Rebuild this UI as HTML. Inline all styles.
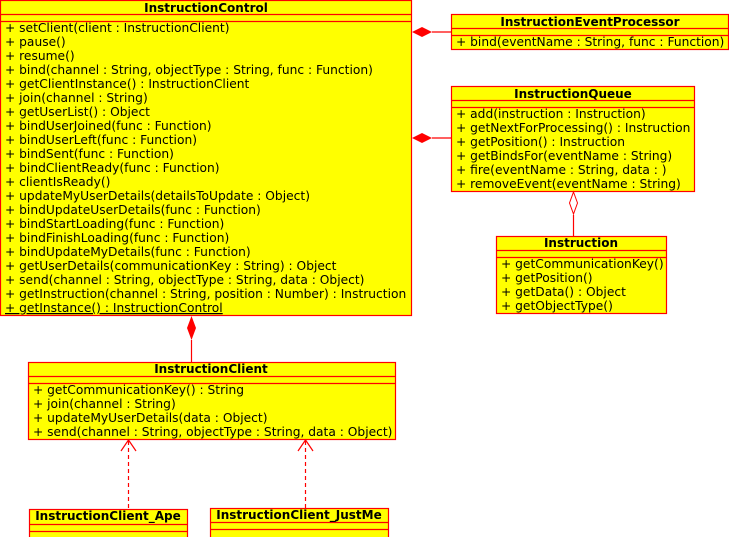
<!DOCTYPE html>
<html><head><meta charset="utf-8"><style>
html,body{margin:0;padding:0;background:#fff;width:729px;height:537px;overflow:hidden}
text{font-family:"DejaVu Sans","Liberation Sans",sans-serif;font-size:12.25px;fill:#000}
.t{font-weight:bold;text-anchor:middle;font-size:12px}
</style></head><body>
<svg width="729" height="537" xmlns="http://www.w3.org/2000/svg">
<g fill="#ffff00" stroke="#ff0000" stroke-width="1.2">
<rect x="0.5" y="0.5" width="411" height="315"/>
<line x1="0" y1="14.5" x2="411" y2="14.5"/><line x1="0" y1="21.5" x2="411" y2="21.5"/>
<rect x="451.5" y="14.5" width="277" height="35"/>
<line x1="451" y1="28.5" x2="729" y2="28.5"/><line x1="451" y1="35.5" x2="729" y2="35.5"/>
<rect x="451.5" y="86.5" width="243" height="105"/>
<line x1="451" y1="100.5" x2="694" y2="100.5"/><line x1="451" y1="107.5" x2="694" y2="107.5"/>
<rect x="496.5" y="236.5" width="170" height="77"/>
<line x1="496" y1="250.5" x2="666" y2="250.5"/><line x1="496" y1="257.5" x2="666" y2="257.5"/>
<rect x="28.5" y="362.5" width="367" height="77"/>
<line x1="28" y1="376.5" x2="395" y2="376.5"/><line x1="28" y1="383.5" x2="395" y2="383.5"/>
<rect x="29.5" y="509.5" width="158" height="40"/>
<line x1="29" y1="524.5" x2="187" y2="524.5"/><line x1="29" y1="531.5" x2="187" y2="531.5"/>
<rect x="210.5" y="508.5" width="178" height="40"/>
<line x1="210" y1="522.5" x2="388" y2="522.5"/><line x1="210" y1="529.5" x2="388" y2="529.5"/>
</g>
<g stroke="#ff0000" stroke-width="1.2" fill="none">
<line x1="432" y1="32" x2="451" y2="32"/>
<line x1="432" y1="138" x2="451" y2="138"/>
<line x1="573.5" y1="215" x2="573.5" y2="236"/>
<line x1="191.5" y1="340" x2="191.5" y2="362"/>
<line x1="128.5" y1="441" x2="128.5" y2="509" stroke-dasharray="4,3"/>
<line x1="305.5" y1="441" x2="305.5" y2="508" stroke-dasharray="4,3"/>
<polyline points="121,451 128.5,440 136,451"/>
<polyline points="298,451 305.5,440 313,451"/>
</g>
<g fill="#ff0000">
<polygon points="412,32 422,27 432,32 422,37"/>
<polygon points="412,138 422,133 432,138 422,143"/>
<polygon points="191.5,316 196,328 191.5,340 187,328"/>
</g>
<polygon points="573.5,192 577.5,203 573.5,214 569.5,203" fill="#fff" stroke="#ff0000" stroke-width="1"/>

<text class="t" x="206" y="12">InstructionControl</text>
<g>
<text x="5" y="32">+ setClient(client : InstructionClient)</text>
<text x="5" y="46">+ pause()</text>
<text x="5" y="60">+ resume()</text>
<text x="5" y="74">+ bind(channel : String, objectType : String, func : Function)</text>
<text x="5" y="88">+ getClientInstance() : InstructionClient</text>
<text x="5" y="102">+ join(channel : String)</text>
<text x="5" y="116">+ getUserList() : Object</text>
<text x="5" y="130">+ bindUserJoined(func : Function)</text>
<text x="5" y="144">+ bindUserLeft(func : Function)</text>
<text x="5" y="158">+ bindSent(func : Function)</text>
<text x="5" y="172">+ bindClientReady(func : Function)</text>
<text x="5" y="186">+ clientIsReady()</text>
<text x="5" y="200">+ updateMyUserDetails(detailsToUpdate : Object)</text>
<text x="5" y="214">+ bindUpdateUserDetails(func : Function)</text>
<text x="5" y="228">+ bindStartLoading(func : Function)</text>
<text x="5" y="242">+ bindFinishLoading(func : Function)</text>
<text x="5" y="256">+ bindUpdateMyDetails(func : Function)</text>
<text x="5" y="270">+ getUserDetails(communicationKey : String) : Object</text>
<text x="5" y="284">+ send(channel : String, objectType : String, data : Object)</text>
<text x="5" y="298">+ getInstruction(channel : String, position : Number) : Instruction</text>
<text x="5" y="312" text-decoration="underline">+ getInstance() : InstructionControl</text>
</g>

<text class="t" x="590" y="26">InstructionEventProcessor</text>
<text x="456" y="46">+ bind(eventName : String, func : Function)</text>

<text class="t" x="573" y="98">InstructionQueue</text>
<text x="456" y="118">+ add(instruction : Instruction)</text>
<text x="456" y="132">+ getNextForProcessing() : Instruction</text>
<text x="456" y="146">+ getPosition() : Instruction</text>
<text x="456" y="160">+ getBindsFor(eventName : String)</text>
<text x="456" y="174">+ fire(eventName : String, data : )</text>
<text x="456" y="188">+ removeEvent(eventName : String)</text>

<text class="t" x="581" y="247">Instruction</text>
<text x="501" y="268">+ getCommunicationKey()</text>
<text x="501" y="282">+ getPosition()</text>
<text x="501" y="296">+ getData() : Object</text>
<text x="501" y="310">+ getObjectType()</text>

<text class="t" x="211" y="373">InstructionClient</text>
<text x="33" y="394">+ getCommunicationKey() : String</text>
<text x="33" y="408">+ join(channel : String)</text>
<text x="33" y="422">+ updateMyUserDetails(data : Object)</text>
<text x="33" y="436">+ send(channel : String, objectType : String, data : Object)</text>

<text class="t" x="108" y="520">InstructionClient_Ape</text>
<text class="t" x="299" y="519">InstructionClient_JustMe</text>
</svg>
</body></html>
